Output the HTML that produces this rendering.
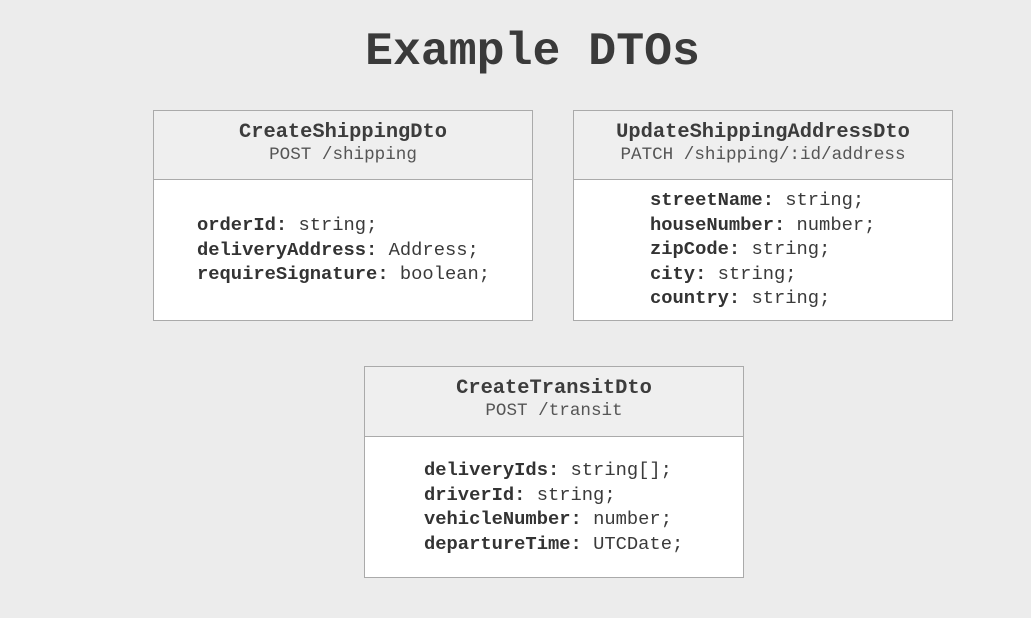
<!DOCTYPE html>
<html><head><style>
body{margin:0;width:1031px;height:618px;background:#ececec;position:relative;overflow:hidden;font-family:"Liberation Mono",monospace;color:#383838}
h1{position:absolute;top:24px;left:17px;width:1031px;text-align:center;margin:0;font-size:46.5px;font-weight:bold;color:#3a3a3a;line-height:56px}
.box{position:absolute;width:380px;background:#fff;border:1.5px solid #aaa;box-sizing:border-box}
.hd{background:#efefef;border-bottom:1.5px solid #aaa;text-align:center;box-sizing:border-box}
.t{font-weight:bold;font-size:20.4px;line-height:22px;padding-top:11px;color:#3c3c3c}
.s{font-size:17.6px;line-height:22px;color:#555}
.f{position:absolute;font-size:18.8px;line-height:24.5px;white-space:pre;color:#3a3a3a}
.f b{color:#333}
</style></head><body>
<h1>Example DTOs</h1>
<div class="box" style="left:153px;top:110px;height:211px">
<div class="hd" style="height:69px"><div class="t">CreateShippingDto</div><div class="s">POST /shipping</div></div>
<div class="f" style="left:43px;top:102px"><b>orderId:</b> string;
<b>deliveryAddress:</b> Address;
<b>requireSignature:</b> boolean;</div>
</div>
<div class="box" style="left:573px;top:110px;height:211px">
<div class="hd" style="height:69px"><div class="t">UpdateShippingAddressDto</div><div class="s">PATCH /shipping/:id/address</div></div>
<div class="f" style="left:76px;top:77px"><b>streetName:</b> string;
<b>houseNumber:</b> number;
<b>zipCode:</b> string;
<b>city:</b> string;
<b>country:</b> string;</div>
</div>
<div class="box" style="left:364px;top:366px;height:212px">
<div class="hd" style="height:70px"><div class="t">CreateTransitDto</div><div class="s">POST /transit</div></div>
<div class="f" style="left:59px;top:91px"><b>deliveryIds:</b> string[];
<b>driverId:</b> string;
<b>vehicleNumber:</b> number;
<b>departureTime:</b> UTCDate;</div>
</div>
</body></html>
